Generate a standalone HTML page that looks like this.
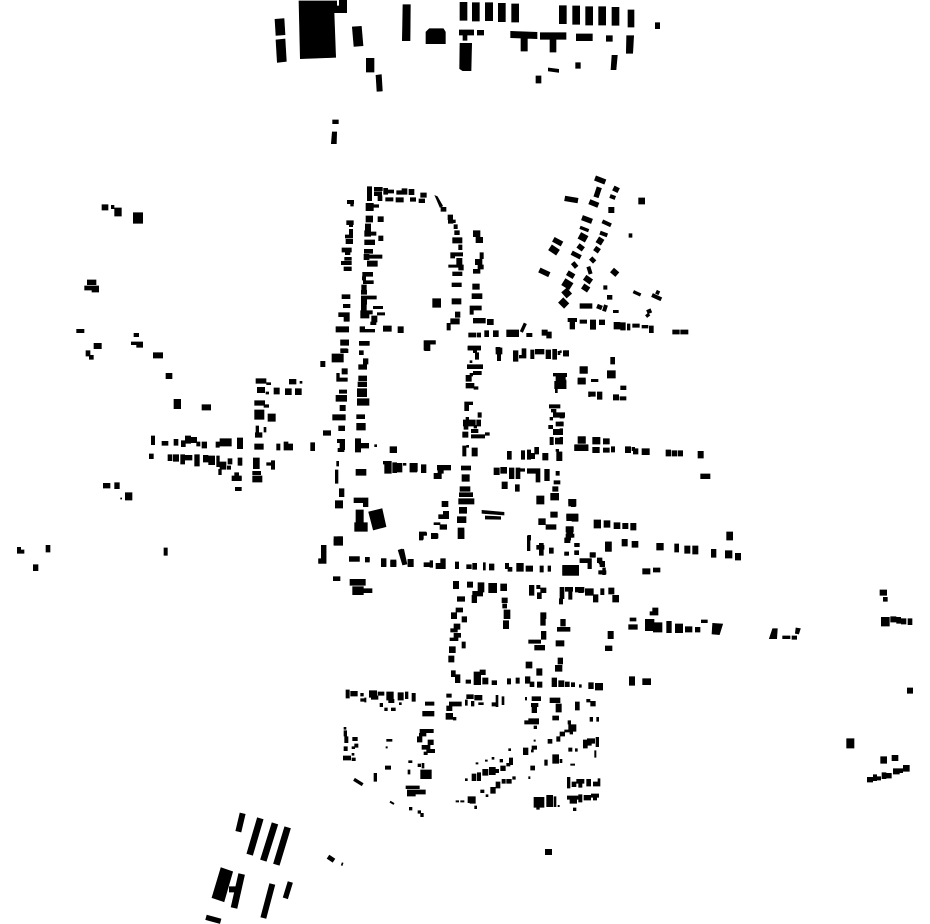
<!DOCTYPE html>
<html><head><meta charset="utf-8"><title>Map</title>
<style>html,body{margin:0;padding:0;background:#fff}svg{display:block}</style></head>
<body>
<svg xmlns="http://www.w3.org/2000/svg" width="930" height="924" viewBox="0 0 930 924">
<rect width="930" height="924" fill="#fff"/>
<g fill="#000" stroke="#000" stroke-width="2">
<g transform="translate(260 0) scale(.33333)">
<path d="M45 58L72 56L75 104L48 106zM48 120L75 117L79 184L52 187zM117 3H230V18H238V38H222L227 172L121 176zM238 1h22v37h-22zM277 81L304 79L309 137L282 139zM319 175h23v41h-23zM348 226L364 224L367 273L351 274zM429 14L451 14L450 122L427 122zM498 96L508 86L550 86L556 96L556 131L498 131zM600 7h21v54h-21zM637 8h21v55h-21zM676 8h22v54h-22zM715 10h21v55h-21zM755 12h21v54h-21zM898 17h21v54h-21zM938 18h21v55h-21zM977 20h21v55h-21zM1016 20h21v55h-21zM1056 22h21v54h-21zM1104 30h18v51h-18zM1186 68h13v18h-13zM598 90h43v15h-20v16h-12v-16h-11zM652 91h19v14h-19zM600 130h35l-2 82h-25l-9 -6zM752 94L831 97V116L802 115V153H783V114L752 113zM841 98H918V118H888V156H870V118H841zM949 102H997V122H949zM1039 107h18v17h-18zM1100 107h21l-3 53h-19zM1056 166h16l-4 43h-15zM947 188h14v17h-14zM865 204l31 4v9l-31 -4zM828 228h15v21h-15zM218 360h17v11h-17zM217 396h13l-1 35h-15z"/>
</g>
<g transform="translate(320 170) scale(.33333)">
<path d="M142 50h13v42h-13zM163 52h24v10h-24zM163 65h22v12h-22zM174 77h12v15h-12zM191 55h12v18h-12zM205 60h16v9h-16zM230 62h16v11h-16zM246 56h15v17h-15zM267 58h15v16h-15zM302 69h17v13h-17zM197 83h22v10h-22zM228 83h22v13h-22zM271 83h16v11h-16zM297 87h17v11h-17zM138 100h22v22h-22zM160 104h16v8h-16zM82 91h19v10h-19zM92 100h8v8h-8zM138 138h20v18h-20zM174 140h16v15h-16zM80 152h20v12h-20zM88 163h10v7h-10zM136 162h16v20h-16zM134 182h18v17h-18zM152 186h16v10h-16zM176 198h13v14h-13zM88 178h10v22h-10zM76 195h22v9h-22zM78 208h20v13h-20zM134 210h30v14h-30zM133 238h25v12h-25zM132 253h15v16h-15zM148 255h38v10h-38zM142 273h30v16h-30zM66 234h28v12h-28zM76 246h14v8h-14zM74 262h20v9h-20zM64 274h30v10h-30zM72 291h22v11h-22zM128 307h30v12h-30zM127 320h10v10h-10zM130 332h30v9h-30zM125 345h14v14h-14zM124 361h16v12h-16zM124 378h45v9h-45zM124 385h16v18h-16zM66 374h24v12h-24zM70 403h20v10h-20zM124 403h15v20h-15zM122 422h35v10h-35zM122 432h25v12h-25zM160 409h28v7h-28zM172 428h22v7h-22zM155 438h16v18h-16zM152 456h16v8h-16zM56 428h32v12h-32zM72 440h16v14h-16zM48 470h38v16h-38zM120 470h14v16h-14zM120 478h44v8h-44zM190 468h24v16h-24zM234 470h16v18h-16zM62 510h24v15h-24zM118 514h28v12h-28zM62 536h20v4h-20zM338 386h24v26h-24zM345 77L352 80L368 108L360 112zM363 112h15v12h-15zM384 135h14v14h-14zM386 150h20v8h-20zM385 150h14v10h-14zM402 164h10v12h-10zM404 182h14v12h-14zM398 203h28v16h-28zM416 225h10v14h-10zM392 248h12v16h-12zM404 248h24v10h-24zM410 265h16v18h-16zM386 285h30v7h-30zM416 285h14v15h-14zM398 306h28v11h-28zM396 339h28v11h-28zM396 386h27v16h-27zM406 426h14v16h-14zM392 446h26v16h-26zM381 460h10v20h-10zM460 182h20v18h-20zM468 202h20v16h-20zM480 248h10v18h-10zM466 268h20v16h-20zM474 285h16v12h-16zM460 298h20v12h-20zM458 342h20v16h-20zM456 371h30v15h-30zM452 408h32v12h-32zM450 408h10v25h-10zM460 445h36v14h-36zM502 448h18v16h-18zM446 489h22v12h-22zM472 489h10v12h-10zM494 482h12v18h-12zM520 482h15v18h-15zM444 530h36v10h-36zM528 532h12v8h-12zM312 512h12v28h-12zM312 512h34v10h-34z"/>
</g>
<g transform="translate(500 170) scale(.33333)">
<g fill="none" stroke="#000">
<path stroke-width="16" d="M285 24L316 36M340 54L356 62M298 52L288 82M194 85L234 92M268 95L295 106M246 143L276 154M160 208L186 222M234 226L250 238M284 234L298 244M118 300L148 314M202 308L222 320"/>
<path stroke-width="12" d="M330 78L346 84M307 154L333 166M300 188L322 196M265 290L272 312M468 365L478 370M456 375L484 388M318 405L312 424M440 432L446 440"/>
<path stroke-width="10" d="M240 172L266 182M400 365L422 375M76 460L64 486"/>
<path stroke-width="22" d="M238 196L260 208M192 360L208 378M182 390L200 408"/>
<path stroke-width="20" d="M292 208L308 218M150 232L174 248"/>
<path stroke-width="14" d="M215 248L242 262M272 264L284 276M218 278L230 292M445 418L450 430M291 408L306 414"/>
<path stroke-width="18" d="M254 322L274 336M248 348L266 360M336 300L352 314"/>
<path stroke-width="24" d="M190 335L214 350"/>
</g>
<path d="M326 112h16v16h-16zM416 84h18v18h-18zM387 191h9v11h-9zM311 347h10v11h-10zM322 376h14v12h-14zM240 401h36v14h-36zM340 421h15v7h-15zM204 445h26v10h-26zM210 455h14v22h-14zM240 450h20v10h-20zM271 450h16v28h-16zM298 450h16v14h-16zM342 457h18v20h-18zM362 458h14v22h-14zM382 462h8v18h-8zM398 462h20v10h-20zM426 466h18v8h-18zM448 468h12v20h-12zM518 480h20v12h-20zM542 480h22v12h-22zM20 480h36v20h-36zM80 490h16v10h-16zM126 480h16v16h-16zM140 486h14v18h-14z"/>
</g>
<g transform="translate(240 340) scale(.33333)">
<path d="M302 0h24v16h-24zM360 4h28v12h-28zM302 28h22v10h-22zM276 42h34v24h-34zM242 64h13v16h-13zM358 32h12v12h-12zM370 56h14v16h-14zM356 74h24v14h-24zM48 116h30v14h-30zM80 128h12v6h-12zM148 118h20v14h-20zM180 124h6v6h-6zM306 86h16v16h-16zM290 100h8v20h-8zM290 114h32v10h-32zM356 108h24v14h-24zM354 126h26v14h-26zM352 146h28v24h-28zM52 142h22v16h-22zM78 156h8v6h-8zM102 144h16v18h-16zM136 146h18v18h-18zM166 146h18v18h-18zM298 150h22v10h-22zM288 166h32v18h-32zM300 196h16v16h-16zM352 176h35v20h-35zM44 182h30v14h-30zM72 194h14v8h-14zM44 210h28v10h-28zM44 218h28v20h-28zM84 222h22v22h-22zM278 224h38v16h-38zM350 224h24v12h-24zM350 250h26v20h-26zM48 258h8v22h-8zM72 262h6v14h-6zM46 278h20v14h-20zM296 258h18v14h-18zM250 272h22v14h-22zM0 296h8v30h-8zM44 312h26v16h-26zM110 312h10v18h-10zM132 306h12v24h-12zM144 312h14v18h-14zM212 308h12v24h-12zM292 298h22v10h-22zM300 305h14v24h-14zM294 325h18v10h-18zM346 296h16v40h-16zM362 310h24v14h-24zM404 314h6v6h-6zM450 320h20v18h-20zM0 356h4v20h-4zM40 354h18v32h-18zM80 368h22v8h-22zM94 362h10v26h-10zM290 364h6v14h-6zM286 390h8v40h-8zM348 388h30v18h-30zM430 364h24v8h-24zM434 364h20v36h-20zM458 368h12v30h-12zM472 370h14v26h-14zM490 370h8v6h-8zM510 370h22v24h-22zM38 394h24v10h-24zM38 408h28v18h-28zM0 410h4v10h-4zM0 442h2v10h-2zM298 446h14v24h-14zM286 482h22v22h-22zM342 474h42v14h-42zM370 480h14v20h-14zM348 510h22v40h-22zM344 548h38v26h-38zM386 516L426 506L438 560L400 570zM282 590h26v26h-26zM244 616h14v50h-14zM236 658h22v12h-22zM328 650h30v14h-30zM376 652h12v14h-12zM424 656h14v24h-14zM452 660h16v20h-16zM504 658h16v22h-16z"/>
<path fill="none" stroke="#000" stroke-width="14" d="M480 628L494 674"/>
</g>
<g transform="translate(410 340) scale(.33333)">
<path d="M44 2h32v10h-32zM44 2h16v30h-16zM174 18h38v12h-38zM190 30h10v8h-10zM196 38h10v20h-10zM180 62h6v6h-6zM258 24h18v18h-18zM262 40h10v22h-10zM310 32h14v32h-14zM336 26h12v28h-12zM328 46h20v8h-20zM362 30h10v26h-10zM376 28h26v14h-26zM408 30h14v26h-14zM428 28h12v30h-12zM444 34h6v10h-6zM460 32h16v16h-16zM172 74h46v12h-46zM180 100h8v8h-8zM190 94h24v10h-24zM168 106h16v18h-16zM168 130h24v14h-24zM192 140h12v8h-12zM510 80h22v20h-22zM504 116h22v16h-22zM430 100h40v8h-40zM438 110h28v12h-28zM434 124h34v22h-34zM436 148h6v10h-6zM536 156h4v14h-4zM164 186h24v8h-24zM164 194h12v18h-12zM204 218h10v14h-10zM418 194h32v10h-32zM424 208h14v8h-14zM430 218h34v14h-34zM420 232h8v8h-8zM438 246h22v12h-22zM416 256h12v10h-12zM430 268h28v16h-28zM420 292h10v22h-10zM436 294h22v18h-22zM168 232h8v10h-8zM160 240h36v18h-36zM162 258h12v10h-12zM192 256h8v8h-8zM184 268h20v10h-20zM158 276h16v16h-16zM184 284h40v10h-40zM226 278h12v8h-12zM200 240h12v18h-12zM158 318h10v30h-10zM170 316h6v6h-6zM186 324h16v24h-16zM506 290h20v20h-20zM494 316h40v16h-40zM292 334h12v24h-12zM334 332h10v26h-10zM352 330h10v28h-10zM374 322h12v20h-12zM360 340h14v16h-14zM398 340h16v20h-16zM438 328h8v6h-8zM440 336h16v26h-16zM0 372h20v24h-20zM34 374h14v24h-14zM82 376h40v14h-40zM84 388h16v12h-16zM72 400h22v16h-22zM154 378h28v12h-28zM156 404h22v20h-22zM252 384h16v20h-16zM272 382h18v18h-18zM298 384h14v32h-14zM318 384h12v32h-12zM330 386h14v8h-14zM352 386h24v14h-24zM378 386h12v40h-12zM404 388h14v34h-14zM438 394h10v12h-10zM432 422h18v10h-18zM276 426h16v20h-16zM316 434h12v20h-12zM428 440h16v14h-16zM150 440h30v14h-30zM148 458h40v12h-40zM422 460h24v20h-24zM146 476h46v16h-46zM380 468h22v24h-22zM96 484h18v16h-18zM476 478h22v20h-22zM148 502h22v18h-22zM100 514h16v20h-16zM86 524h30v12h-30zM422 516h20v16h-20zM470 524h34v18h-34zM142 530h26v18h-26zM386 536h20v18h-20zM72 548h18v6h-18zM90 554h20v14h-20zM408 554h30v14h-30zM470 560h20v16h-20zM216 511L282 517L282 525L216 520zM226 528L272 530V538L226 537zM144 564h18v32h-18zM28 576h20v10h-20zM28 576h10v24h-10zM64 580h18v16h-18zM354 586h8v14h-8zM470 576h18v16h-18zM466 594h16v6h-16z"/>
</g>
<g transform="translate(560 340) scale(.33333)">
<path d="M14 32h12v16h-12zM0 32h4v6h-4zM60 80h22v20h-22zM152 52h12v20h-12zM142 92h24v22h-24zM94 118h20v7h-20zM54 114h22v18h-22zM182 138h16v11h-16zM86 156h20v13h-20zM112 156h14v22h-14zM160 164h16v16h-16zM180 170h18v10h-18zM0 100h20v10h-20zM0 120h18v10h-18zM4 134h14v12h-14zM0 220h12v14h-12zM0 246h8v10h-8zM0 266h8v18h-8zM0 292h8v18h-8zM0 336h4v24h-4zM54 290h22v20h-22zM98 292h22v20h-22zM130 296h18v16h-18zM44 314h40v18h-40zM98 322h20v16h-20zM130 324h18v13h-18zM154 320h10v16h-10zM196 320h16v18h-16zM216 322h8v10h-8zM220 326h14v16h-14zM246 326h22v18h-22zM318 330h14v18h-14zM336 332h14v16h-14zM354 332h14v16h-14zM414 334h16v20h-16zM422 402h12v14h-12zM436 402h14v14h-14zM26 478h14v14h-14zM34 488h12v12h-12zM20 522h34v12h-34zM36 530h18v14h-18zM18 560h20v16h-20zM18 582h24v10h-24zM14 594h14v14h-14zM44 610h14v10h-14zM14 636h12v10h-12zM44 632h12v12h-12zM90 638h16v14h-16zM60 656h26v12h-26zM84 656h10v30h-10zM112 654h14v14h-14zM120 664h14v16h-14zM116 692h20v10h-20zM128 684h8v20h-8zM8 678h48v28h-48zM102 540h20v24h-20zM132 542h18v20h-18zM162 548h18v18h-18zM188 550h16v16h-16zM212 550h16v20h-16zM136 606h18v28h-18zM186 598h16v20h-16zM216 604h18v18h-18zM290 610h20v20h-20zM344 612h12v24h-12zM374 618h16v22h-16zM398 618h16v24h-16zM454 628h14v24h-14zM496 632h20v22h-20zM526 640h16v20h-16zM500 576h18v24h-18zM248 686h22v16h-22zM280 684h20v12h-20z"/>
</g>
<g transform="translate(310 530) scale(.33333)">
<path d="M330 8h10v20h-10zM330 8h20v8h-20zM364 12h20v12h-20zM446 0h16v26h-16zM770 0h16v8h-16zM772 14h14v8h-14zM766 24h14v14h-14zM794 40h12v8h-12zM794 64h12v8h-12zM764 68h10v8h-10zM842 68h14v12h-14zM888 36h16v28h-16zM72 28h24v16h-24zM84 20h12v24h-12zM36 46h12v50h-12zM26 86h22v14h-22zM118 80h30v14h-30zM166 82h12v12h-12zM214 86h14v22h-14zM242 94h16v14h-16zM294 90h14v18h-14zM342 98h22v12h-22zM360 92h8v20h-8zM378 100h26v16h-26zM392 86h14v30h-14zM436 96h10v20h-10zM470 104h14v12h-14zM488 100h12v18h-12zM520 98h6v22h-6zM538 102h14v18h-14zM586 100h10v16h-10zM594 112h12v12h-12zM620 100h20v24h-20zM648 108h20v16h-20zM690 108h10v18h-10zM714 108h8v16h-8zM758 106h48v30h-48zM810 86h24v10h-24zM834 86h10v30h-10zM870 122h18v10h-18zM880 114h6v18h-6zM652 18h8v44h-8zM680 46h22v12h-22zM688 40h12v36h-12zM718 54h12v16h-12zM70 140h20v12h-20zM120 148h46v18h-46zM128 170h32v24h-32zM160 176h26v12h-26zM430 154h16v22h-16zM472 156h16v16h-16zM504 158h18v28h-18zM488 184h30v14h-30zM486 196h14v22h-14zM536 160h24v28h-24zM572 162h18v20h-18zM442 200h22v14h-22zM576 204h16v14h-16zM578 222h12v12h-12zM582 240h18v26h-18zM580 272h16v24h-16zM438 234h20v12h-20zM424 248h16v18h-16zM456 260h14v16h-14zM432 282h18v16h-18zM422 296h20v10h-20zM432 310h20v12h-20zM420 324h24v8h-24zM456 336h10v18h-10zM418 350h18v18h-18zM416 378h16v18h-16zM658 166h14v30h-14zM680 166h10v10h-10zM682 188h12v18h-12zM692 174h16v14h-16zM750 172h12v34h-12zM748 206h10v16h-10zM766 172h22v12h-22zM776 184h10v24h-10zM796 172h26v14h-26zM806 178h14v10h-14zM826 176h24v20h-24zM850 194h14v22h-14zM872 176h10v18h-10zM896 174h16v18h-16zM908 196h18v20h-18zM692 248h16v18h-16zM692 268h14v18h-14zM752 268h14v20h-14zM742 292h38v12h-38zM694 304h14v24h-14zM656 330h36v10h-36zM674 346h30v14h-30zM738 332h24v16h-24zM894 304h16v22h-16zM886 348h20v14h-20zM648 396h18v18h-18zM680 416h16v20h-16zM744 384h14v18h-14zM736 406h20v18h-20zM424 422h12v18h-12zM436 434h14v24h-14zM468 450h14v10h-14zM492 426h20v38h-20zM510 420h16v14h-16zM518 444h16v18h-16zM546 452h14v12h-14zM592 446h10v16h-10zM618 444h10v16h-10zM646 440h14v20h-14zM660 456h12v14h-12zM682 456h14v16h-14zM726 444h14v26h-14zM746 452h16v18h-16zM766 456h12v14h-12zM784 458h10v12h-10zM808 464h6v8h-6zM836 458h14v18h-14zM856 460h22v20h-22z"/>
<path fill="none" stroke="#000" stroke-width="12" d="M276 58L286 104"/>
<path fill="none" stroke="#000" stroke-width="14" d="M866 88L880 108"/>
</g>
<g transform="translate(330 680) scale(.33333)">
<path d="M48 30h10v24h-10zM62 34h20v14h-20zM92 40h8v8h-8zM92 56h16v8h-16zM118 32h22v20h-22zM124 48h20v10h-20zM104 54h4v12h-4zM144 36h18v10h-18zM170 36h20v24h-20zM176 58h16v10h-16zM204 38h16v22h-16zM226 36h8v20h-8zM246 40h10v24h-10zM208 68h6v6h-6zM150 70h8v10h-8zM184 84h12v8h-12zM164 84h8v8h-8zM286 66h26v10h-26zM278 94h34v14h-34zM350 42h14v10h-14zM358 66h36v12h-36zM350 78h16v14h-16zM348 100h20v18h-20zM370 112h8v8h-8zM406 60h6v16h-6zM410 44h20v12h-20zM434 46h22v14h-22zM424 64h8v14h-8zM446 68h14v6h-14zM486 68h12v10h-12zM498 46h6v34h-6zM516 50h6v24h-6zM586 52h4v8h-4zM606 50h26v12h-26zM604 70h20v10h-20zM606 82h14v16h-14zM660 54h30v14h-30zM678 72h16v24h-16zM668 108h18v12h-18zM736 66h12v24h-12zM770 58h10v8h-10zM782 64h14v14h-14zM780 112h8v12h-8zM800 112h6v12h-6zM584 122h18v10h-18zM596 116h30v16h-30zM612 138h8v8h-8zM714 122h8v10h-8zM42 142h6v6h-6zM42 152h8v16h-8zM44 170h10v18h-10zM68 172h14v10h-14zM74 192h10v10h-10zM42 200h10v12h-10zM66 200h8v6h-8zM40 228h22v12h-22zM66 234h10v8h-10zM66 220h6v6h-6zM270 148h40v10h-40zM268 160h20v8h-20zM262 170h14v16h-14zM294 180h16v14h-16zM276 196h24v12h-24zM290 208h24v10h-24zM282 216h10v8h-10zM170 178h16v6h-16zM168 200h4v4h-4zM236 242h10v6h-10zM166 258h16v10h-16zM264 252h8v8h-8zM276 250h6v14h-6zM234 270h6v12h-6zM272 270h32v26h-32zM132 280h8v24h-8zM232 330h24v18h-24zM256 330h30v12h-30zM228 318h40v8h-40zM238 382h8v8h-8zM264 392h8v8h-8zM272 400h8v10h-8zM406 296h6v6h-6zM426 282h12v20h-12zM442 278h10v24h-10zM458 268h16v18h-16zM478 262h18v22h-18zM496 268h10v10h-10zM512 258h14v14h-14zM530 250h10v8h-10zM538 234h10v20h-10zM510 238h8v8h-8zM486 232h6v6h-6zM466 240h6v4h-6zM438 248h6v4h-6zM536 206h6v6h-6zM580 204h14v20h-14zM606 198h14v10h-14zM604 210h6v6h-6zM612 180h4v4h-4zM654 178h12v12h-12zM680 170h10v14h-10zM690 156h14v12h-14zM704 150h18v6h-18zM716 134h22v20h-22zM720 156h8v6h-8zM644 240h8v16h-8zM668 224h18v26h-18zM690 238h6v10h-6zM716 204h10v10h-10zM736 206h6v8h-6zM722 252h12v4h-12zM760 180h12v24h-12zM772 176h12v20h-12zM786 176h8v14h-8zM798 172h8v28h-8zM794 212h4v20h-4zM602 258h12v12h-12zM596 290h4v6h-4zM378 362h8v4h-8zM392 362h10v4h-10zM414 350h22v18h-22zM452 330h10v8h-10zM468 344h6v6h-6zM482 322h14v18h-14zM498 306h12v18h-12zM516 298h10v12h-10zM530 298h14v12h-14zM548 290h8v8h-8zM420 366h16v4h-16zM434 378h6v8h-6zM712 292h8v32h-8zM726 306h12v14h-12zM740 298h22v12h-22zM746 312h10v10h-10zM770 298h12v20h-12zM790 306h14v12h-14zM804 296h6v22h-6zM612 352h30v30h-30zM620 380h8v8h-8zM650 346h18v34h-18zM672 350h6v30h-6zM684 376h4v4h-4zM712 348h40v10h-40zM720 358h20v12h-20zM746 344h10v22h-10zM762 346h20v14h-20zM784 342h22v10h-22zM790 352h10v8h-10zM730 384h8v8h-8z"/>
<path fill="none" stroke="#000" stroke-width="10" d="M72 298L98 314"/>
<path fill="none" stroke="#000" stroke-width="6" d="M180 365L192 372"/>
</g>
<g transform="translate(0 190) scale(.33333)">
<path d="M306 44h18v16h-18zM334 46h8v10h-8zM344 54h20v24h-20zM400 68h28v32h-28zM262 270h26v14h-26zM254 288h20v12h-20zM276 288h20v18h-20zM230 418h22v10h-22zM402 430h14v10h-14zM282 460h22v16h-22zM394 456h34v8h-34zM410 458h18v14h-18zM258 482h12v16h-12zM268 496h12v12h-12zM460 488h28v16h-28zM498 550h18v16h-18zM522 628h20v28h-20zM606 644h26v16h-26zM454 738h10v26h-10zM486 754h18v12h-18zM522 748h12v18h-12zM544 752h12v18h-12zM556 738h16v22h-16zM574 742h16v16h-16zM590 756h10v12h-10zM606 756h14v18h-14zM648 756h10v16h-10zM660 746h34v22h-34zM712 744h16v32h-16zM448 792h12v14h-12zM504 794h12v18h-12zM520 794h16v20h-16zM542 794h12v28h-12zM556 796h20v14h-20zM584 794h14v34h-14zM610 796h14v20h-14zM626 798h18v26h-18zM650 798h8v32h-8zM660 816h18v22h-18zM684 806h12v16h-12zM682 828h10v10h-10zM714 804h12v22h-12zM656 838h8v16h-8zM704 848h12v12h-12zM696 858h28v14h-28zM706 892h18v10h-18zM310 880h20v14h-20zM344 878h14v18h-14zM376 908h20v22h-20zM362 924h3v3h-3zM52 1072h10v18h-10zM60 1080h12v10h-12zM138 1066h12v20h-12zM100 1124h14v18h-14zM492 1074h10v22h-10z"/>
</g>
<g transform="translate(190 800) scale(.33333)">
<path d="M93 203L128 215L102 305L66 293zM118 260h30v16h-30z"/>
<g fill="none" stroke="#000">
<path stroke-width="18" d="M158 40L145 95M247 252L220 354"/>
<path stroke-width="20" d="M211 55L179 164M255 70L220 182M293 82L259 194M155 222L132 324"/>
<path stroke-width="16" d="M301 246L286 295M48 352L92 364"/>
<path stroke-width="14" d="M414 170L432 182"/>
<path stroke-width="5" d="M458 188L455 197"/>
</g>
</g>
<g transform="translate(620 580) scale(.33333)">
<path d="M30 114h18v9h-18zM26 134h26v14h-26zM90 95h24v10h-24zM98 84h16v20h-16zM76 118h26v34h-26zM100 128h26v28h-26zM140 124h14v34h-14zM166 132h22v26h-22zM196 140h20v16h-20zM226 142h14v14h-14zM244 120h18v8h-18zM278 130L308 132L298 164L276 162zM458 146L472 146L470 176L448 176zM488 168h22v8h-22zM516 168h14v10h-14zM528 144L541 146L536 162L526 160zM780 30h20v16h-20zM790 52h12v12h-12zM784 112h24v26h-24zM812 110h16v16h-16zM830 112h12v18h-12zM844 116h14v16h-14zM864 116h12v18h-12zM28 290h16v26h-16zM68 296h24v18h-24zM862 324h16v16h-16zM680 476h22v28h-22zM782 530h18v20h-18zM816 526h18v16h-18zM742 592h16v14h-16zM760 584h10v18h-10zM770 590h12v10h-12zM786 578h12v18h-12zM798 580h16v14h-16zM820 566h18v16h-18zM838 566h10v12h-10zM850 556h18v18h-18z"/>
</g>
<path d="M546 850h5v4h-5z"/>
</g>
</svg>
</body></html>
